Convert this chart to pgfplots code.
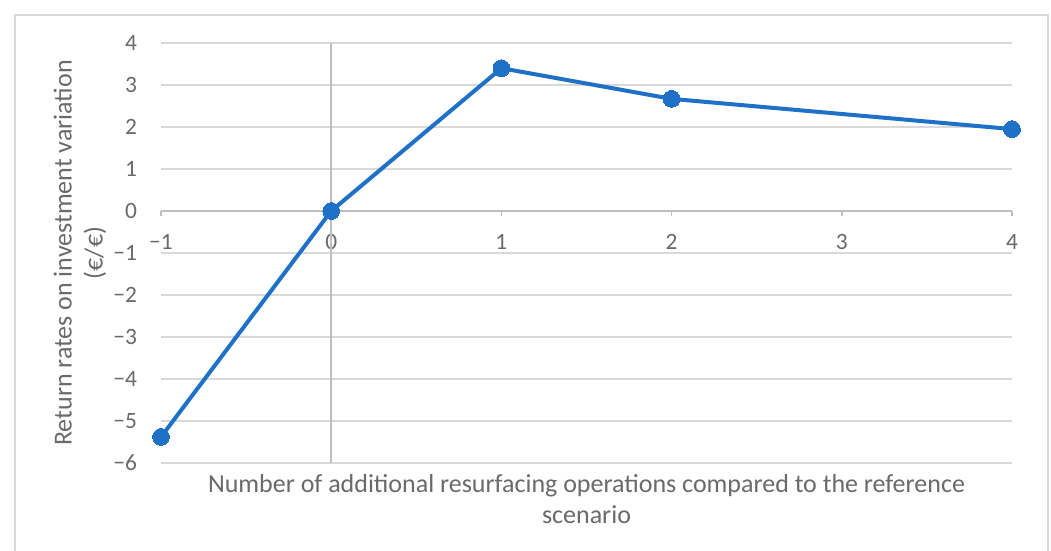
\documentclass[border=0pt]{standalone}
\usepackage{pgfplots}
\pgfplotsset{compat=1.18}
\usepackage{fontspec}
\setmainfont{Carlito}
\definecolor{txt}{HTML}{6A6A6A}
\definecolor{gridc}{HTML}{D9D9D9}
\definecolor{axl}{HTML}{BFBFBF}
\definecolor{blu}{RGB}{31,113,200}
\begin{document}
\begin{tikzpicture}
\path[use as bounding box] (0,0) rectangle (525.5pt,275.5pt);
\fill[white] (0,0) rectangle (525.5pt,275.5pt);
\draw[gridc, line width=0.75pt] (7.5pt,-2pt) -- (7.5pt,268pt) -- (524pt,268pt) -- (524pt,-2pt);
\begin{axis}[
  at={(80.5pt,44pt)}, anchor=south west,
  scale only axis, width=425.5pt, height=210pt,
  xmin=-1, xmax=4, ymin=-6, ymax=4,
  axis x line=middle, axis y line=left,
  x axis line style={-, axl, line width=0.75pt},
  y axis line style={draw=none},
  hide obscured x ticks=false, hide obscured y ticks=false,
  xtick={-1,0,1,2,3,4},
  xticklabels={−1,0,1,2,3,4},
  ytick={-6,-5,-4,-3,-2,-1,0,1,2,3,4},
  yticklabels={−6,−5,−4,−3,−2,−1,0,1,2,3,4},
  tick align=outside, major tick length=2.5pt,
  xtick style={axl, line width=0.75pt},
  ytick style={draw=none},
  ymajorgrids, grid style={gridc, line width=0.65pt},
  ticklabel style={font=\fontsize{11.7}{13}\selectfont, text=txt},
  xticklabel style={yshift=-5.5pt},
  yticklabel style={xshift=-6pt},
  xlabel={Number of additional resurfacing operations compared to the reference\\scenario},
  ylabel={Return rates on investment variation\\(€/€)},
  every axis x label/.style={at={(rel axis cs:0.5,0)}, anchor=center, yshift=-18pt, align=center, font=\fontsize{13}{15.5}\selectfont, text=txt},
  every axis y label/.style={at={(rel axis cs:0,0.5)}, xshift=-40.5pt, rotate=90, anchor=center, align=center, font=\fontsize{13}{15.5}\selectfont, text=txt},
  clip=false,
]
\draw[axl, line width=0.75pt] (axis cs:0,-6) -- (axis cs:0,4);
\addplot[blu, line width=2pt, mark=*, mark size=4.2pt, mark options={fill=blu, draw=blu, line width=0pt}]
  coordinates {(-1,-5.38) (0,0) (1,3.40) (2,2.67) (4,1.95)};
\end{axis}
\end{tikzpicture}
\end{document}
